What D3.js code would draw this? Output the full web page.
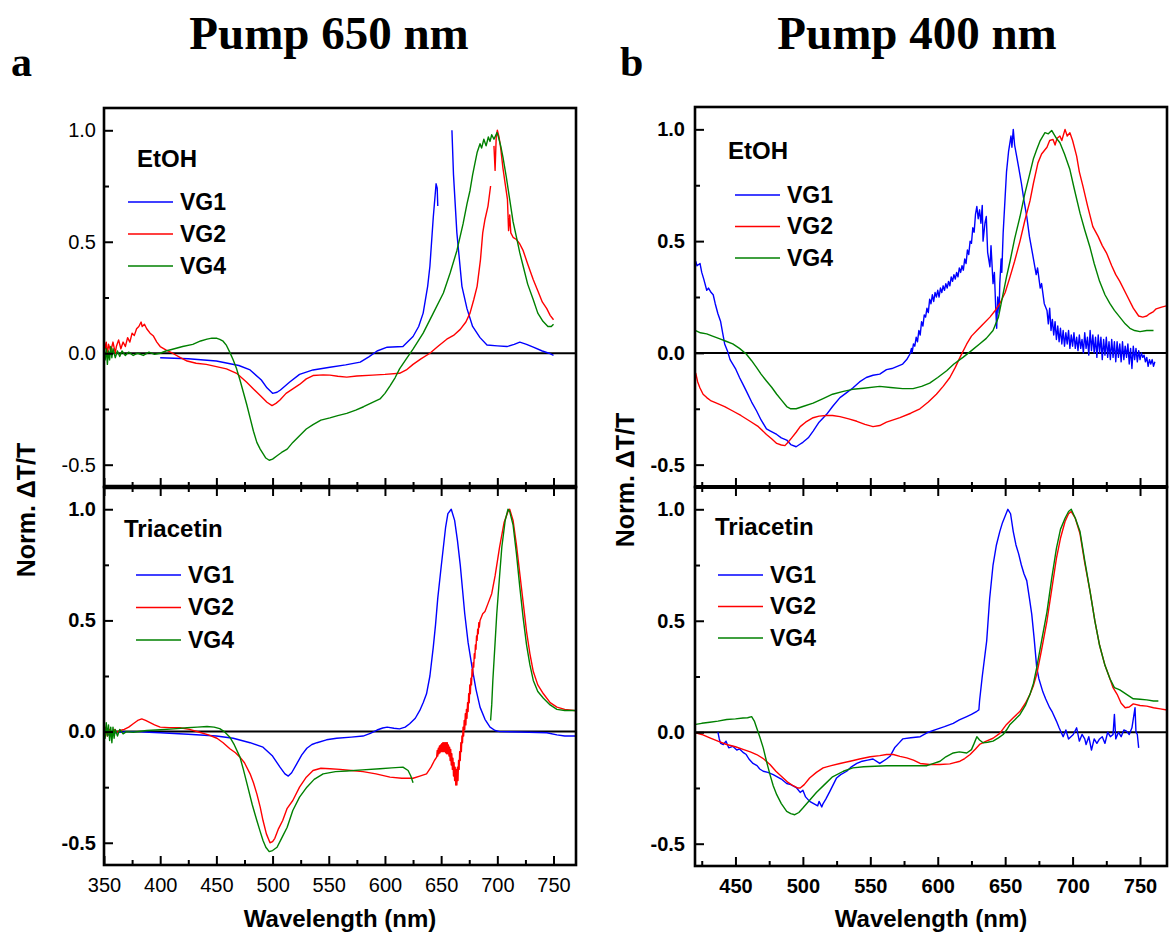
<!DOCTYPE html>
<html><head><meta charset="utf-8">
<script src="https://cdn.jsdelivr.net/npm/d3@7"></script>
<style>body{margin:0;background:#fff}svg{display:block}</style>
</head><body>
<svg id="c" width="1171" height="936"></svg>
<script>
// ---------- DATA ----------
const seriesNames = ["VG1", "VG2", "VG4"];
const solventsTop = "EtOH", solventBottom = "Triacetin";
const titles = ["Pump 650 nm", "Pump 400 nm"];
const panelLetters = ["a", "b"];
const xDomainA = [350, 770], xDomainB = [420, 770];
const yDomain = [-0.6, 1.1];
const xTicksA = [350, 400, 450, 500, 550, 600, 650, 700, 750];
const xMinorA = [375, 425, 475, 525, 575, 625, 675, 725];
const xTicksB = [450, 500, 550, 600, 650, 700, 750];
const xMinorB = [425, 475, 525, 575, 625, 675, 725];
const yTicks = [-0.5, 0.0, 0.5, 1.0];
const yMinor = [-0.25, 0.25, 0.75];

// Pump 650 nm, EtOH
const a_EtOH_VG1 = [[400,-0.02],[425,-0.025],[450,-0.035],[470,-0.055],[480,-0.075],[490,-0.12],[495,-0.155],[500,-0.18],[504,-0.175],[507,-0.165],[515,-0.13],[524,-0.095],[536,-0.075],[551,-0.063],[565,-0.052],[578,-0.04],[586,-0.015],[593,0.01],[602,0.027],[616,0.03],[625,0.075],[630,0.12],[634,0.18],[638,0.30],[640,0.39],[643,0.61],[645.5,0.76],[646.5,0.74],[647,0.66],[648,null],[659.6,1.0],[661,0.80],[664,0.54],[668.5,0.30],[673,0.20],[678,0.12],[684.6,0.07],[690.8,0.037],[700,0.033],[708.6,0.03],[715,0.04],[720,0.05],[726,0.04],[732,0.027],[740,0.01],[746,0.0],[750,-0.01]];
const a_EtOH_VG2 = [[350,0.06],[351,0.02],[352,0.05],[353,-0.01],[354,0.04],[356,0.01],[358,0.05],[360,0.0],[361,0.03],[363,0.06],[365,0.02],[367,0.05],[369,0.03],[371,0.07],[373,0.05],[375,0.09],[377,0.08],[379,0.11],[381,0.12],[383,0.14],[384,0.12],[386,0.13],[388,0.11],[391,0.09],[394,0.077],[397,0.05],[400,0.03],[405,0.015],[411,0.0],[418,-0.02],[424,-0.035],[432,-0.045],[441,-0.05],[450,-0.06],[459,-0.07],[468,-0.09],[477,-0.13],[483,-0.16],[489,-0.19],[495,-0.22],[499.5,-0.235],[503,-0.225],[506.6,-0.21],[512,-0.18],[518,-0.16],[524,-0.14],[530,-0.115],[536,-0.10],[545,-0.097],[551,-0.098],[558,-0.103],[566,-0.107],[575,-0.102],[589,-0.098],[600,-0.095],[613,-0.09],[619,-0.075],[625,-0.05],[632,-0.025],[640,0.0],[647,0.03],[655,0.063],[661,0.08],[667,0.107],[672,0.14],[675.7,0.18],[679,0.24],[682,0.30],[685,0.42],[687,0.54],[689,0.60],[691.7,0.66],[694,0.75],[694.5,null],[697,0.93],[698,0.82],[699,0.97],[700,1.0],[701.5,0.97],[703,0.92],[705,0.83],[707,0.76],[709,0.69],[710,0.55],[711,0.62],[712,0.54],[714,0.52],[717,0.51],[720,0.49],[723,0.46],[727,0.40],[732,0.33],[736,0.28],[740,0.23],[744,0.20],[747,0.17],[750,0.15]];
const a_EtOH_VG4 = [[350,0.0],[351,-0.03],[352,0.02],[353,-0.05],[354,0.01],[355,-0.03],[356,0.03],[357,-0.02],[358,0.02],[360,-0.02],[362,0.01],[364,-0.015],[366,0.01],[369,-0.01],[372,0.005],[376,-0.01],[380,0.0],[385,-0.01],[390,0.005],[395,-0.005],[400,0.0],[405,0.01],[411,0.018],[420,0.03],[429,0.04],[436,0.055],[441.7,0.063],[446,0.068],[450.5,0.067],[453,0.062],[456,0.054],[459,0.035],[462,0.004],[465,-0.03],[468,-0.07],[471,-0.12],[474,-0.175],[477,-0.23],[480,-0.29],[483,-0.35],[486,-0.40],[489,-0.43],[491.5,-0.45],[494,-0.47],[497,-0.48],[500,-0.475],[504,-0.46],[508,-0.445],[513,-0.43],[518,-0.40],[524,-0.37],[530,-0.34],[536,-0.32],[543,-0.30],[551,-0.29],[558,-0.28],[566,-0.27],[574,-0.255],[581,-0.24],[589,-0.22],[595.6,-0.205],[600,-0.18],[604.5,-0.146],[609,-0.11],[613,-0.07],[619,-0.025],[625,0.018],[634,0.09],[643,0.18],[652,0.27],[658,0.36],[664,0.46],[669.5,0.58],[673,0.67],[675.7,0.73],[678,0.80],[680,0.85],[682,0.90],[684.6,0.94],[686,0.92],[688,0.96],[690,0.93],[692,0.97],[693.5,0.95],[695,0.98],[697,0.96],[699.7,0.99],[701,0.97],[703,0.93],[705,0.88],[708,0.79],[711,0.69],[714,0.59],[717.5,0.51],[720,0.45],[723,0.39],[727,0.31],[732,0.24],[736,0.18],[740.6,0.143],[745,0.12],[748,0.12],[750,0.13]];

// Pump 650 nm, Triacetin
const a_Tri_VG1 = [[350,-0.01],[352,0.01],[354,-0.015],[356,0.0],[360,-0.005],[370,0.0],[380,0.0],[390,-0.003],[400,-0.005],[425,-0.012],[450,-0.02],[465,-0.03],[480,-0.05],[491.5,-0.07],[500,-0.11],[506.6,-0.16],[511,-0.19],[514,-0.20],[517,-0.185],[521.5,-0.145],[526,-0.105],[530.5,-0.075],[535,-0.058],[539.5,-0.05],[548,-0.037],[557,-0.03],[570,-0.025],[580.5,-0.02],[587,-0.008],[593,0.007],[598,0.016],[602,0.02],[608,0.015],[613,0.012],[618,0.02],[622,0.035],[627,0.06],[631,0.095],[634,0.13],[637,0.17],[640,0.25],[643,0.38],[645,0.48],[647,0.60],[650,0.74],[652,0.83],[654,0.92],[656,0.98],[659,1.0],[662,0.95],[664.5,0.86],[667,0.75],[669,0.64],[671,0.53],[674,0.40],[677.5,0.29],[681,0.19],[684.6,0.11],[689,0.055],[693.5,0.02],[698,0.005],[702,0.0],[720,-0.002],[744,-0.005],[753,-0.015],[760,-0.02],[770,-0.02]];
const a_Tri_VG2 = [[350,-0.01],[351,0.02],[353,-0.02],[355,0.01],[357,-0.015],[359,0.01],[361,-0.005],[364,0.005],[368,0.01],[372,0.02],[376,0.035],[380,0.05],[383.6,0.057],[387,0.05],[391,0.04],[395,0.03],[400,0.02],[408,0.018],[417.6,0.017],[426,0.01],[435,-0.003],[443,-0.015],[450.5,-0.03],[456,-0.05],[462,-0.077],[467,-0.095],[471,-0.115],[475,-0.14],[480,-0.19],[483,-0.23],[486,-0.28],[489,-0.34],[491.5,-0.40],[494.5,-0.46],[497.7,-0.50],[500,-0.495],[502,-0.48],[505,-0.44],[509,-0.40],[513,-0.345],[518,-0.31],[524,-0.25],[530,-0.205],[536,-0.175],[543,-0.165],[551,-0.167],[560,-0.17],[570,-0.175],[580.5,-0.18],[592,-0.19],[604.5,-0.205],[615,-0.21],[625,-0.21],[631,-0.20],[637,-0.19],[641,-0.16],[644,-0.13],[646,-0.115],[646.5,-0.085],[647,-0.11],[647.5,-0.075],[648,-0.1],[648.5,-0.065],[649,-0.095],[649.5,-0.06],[650,-0.09],[650.5,-0.055],[651,-0.09],[651.5,-0.05],[652,-0.09],[652.5,-0.05],[653,-0.09],[653.5,-0.05],[654,-0.095],[654.5,-0.05],[655,-0.1],[655.5,-0.05],[656,-0.1],[656.5,-0.06],[657,-0.11],[657.5,-0.07],[658,-0.13],[658.5,-0.08],[659,-0.15],[659.5,-0.1],[660,-0.17],[660.5,-0.12],[661,-0.2],[661.5,-0.14],[662,-0.22],[662.5,-0.16],[663,-0.24],[663.5,-0.17],[664,-0.24],[664.5,-0.16],[665,-0.22],[665.5,-0.13],[666,-0.17],[666.5,-0.09],[667,-0.13],[667.5,-0.05],[668,-0.09],[668.5,-0.02],[669,-0.05],[669.5,0.02],[670,-0.02],[670.5,0.05],[671,0.01],[671.5,0.08],[672,0.03],[672.5,0.1],[673,0.06],[673.5,0.13],[674,0.09],[674.5,0.17],[675,0.13],[675.5,0.21],[676,0.17],[676.5,0.24],[677,0.21],[677.5,0.28],[678,0.25],[678.5,0.31],[679,0.29],[679.5,0.35],[680,0.33],[680.5,0.39],[681,0.37],[681.5,0.43],[682,0.41],[682.5,0.46],[683,0.44],[683.5,0.49],[684,0.47],[684.6,0.5],[687,0.53],[689,0.54],[692,0.58],[695,0.62],[698,0.70],[702,0.83],[706,0.94],[709.5,0.99],[711,1.0],[714,0.95],[717,0.84],[720,0.71],[723,0.58],[726,0.45],[729,0.35],[732,0.27],[736,0.21],[741,0.17],[747,0.13],[753,0.11],[760,0.1],[770,0.094]];
const a_Tri_VG4 = [[350,0.0],[351,-0.03],[352,0.04],[353,-0.02],[354,0.03],[355,-0.04],[356,0.02],[357,-0.05],[358,0.02],[359,-0.03],[360,0.01],[362,-0.02],[364,0.01],[367,-0.01],[370,0.0],[376,-0.003],[388,0.005],[400,0.008],[412,0.012],[424,0.017],[433,0.02],[441.7,0.023],[448,0.02],[453,0.013],[457,0.0],[462,-0.025],[466,-0.06],[471,-0.115],[474,-0.17],[478,-0.25],[482,-0.33],[486,-0.40],[489,-0.45],[491.5,-0.49],[494,-0.52],[497,-0.54],[500,-0.535],[504,-0.52],[508,-0.48],[513,-0.43],[518,-0.355],[524,-0.295],[530.5,-0.25],[537,-0.215],[545,-0.19],[556,-0.18],[566,-0.177],[580,-0.172],[595.6,-0.167],[606,-0.163],[616,-0.16],[620.6,-0.175],[623,-0.2],[625,-0.23],[625.5,null],[694,0.05],[695,0.12],[696,0.23],[698,0.4],[699.5,0.53],[702,0.7],[704,0.83],[707,0.95],[709.5,1.0],[711,0.99],[714,0.93],[717,0.80],[720,0.65],[723,0.51],[726,0.39],[729,0.30],[732,0.23],[736,0.18],[741,0.15],[747,0.12],[753,0.10],[760,0.095],[770,0.095]];

// Pump 400 nm, EtOH
const b_EtOH_VG1 = [[420.5,0.41],[421.5,0.39],[423.7,0.40],[425,0.36],[426.5,0.33],[428.7,0.28],[430,0.29],[432,0.27],[433.5,0.26],[435,0.22],[437,0.175],[439,0.14],[440.5,0.09],[442,0.04],[444,0.01],[446,-0.03],[448,-0.05],[450,-0.07],[453,-0.11],[455.5,-0.14],[458,-0.17],[462,-0.22],[465.7,-0.26],[469,-0.30],[473,-0.34],[476,-0.35],[480.6,-0.365],[484,-0.38],[488,-0.39],[491,-0.41],[495,-0.42],[497.5,-0.41],[500,-0.40],[504,-0.38],[507.6,-0.35],[512,-0.31],[517.6,-0.275],[522,-0.24],[527.5,-0.20],[532,-0.18],[537,-0.157],[542,-0.13],[547,-0.11],[552,-0.10],[557,-0.095],[562,-0.075],[566,-0.07],[570,-0.06],[574,-0.05],[577,-0.03],[579.4,-0.005],[580.5,0.02],[581,0.0],[582,0.04],[583,0.03],[584,0.07],[585,0.05],[586,0.1],[587,0.08],[588,0.14],[589,0.12],[590,0.17],[591,0.16],[592,0.2],[593,0.18],[594,0.24],[595,0.22],[596,0.26],[597,0.23],[598,0.27],[599,0.25],[600,0.28],[601,0.25],[602,0.29],[603,0.27],[604,0.3],[605,0.28],[606,0.31],[607,0.29],[608,0.32],[609,0.3],[610,0.34],[611,0.32],[612,0.35],[613,0.33],[614,0.36],[615,0.34],[616,0.38],[617,0.36],[618,0.39],[619,0.37],[620,0.42],[621,0.4],[622,0.46],[623,0.44],[624,0.5],[625,0.49],[626,0.56],[627,0.54],[628,0.62],[629,0.655],[630,0.6],[631,0.64],[632,0.58],[633,0.66],[633.6,0.50],[635,0.58],[636,0.61],[637,0.45],[638.7,0.385],[639.5,0.48],[641,0.31],[642,0.36],[643,0.2],[643.7,0.11],[644.5,0.25],[645.5,0.18],[646,0.31],[647,0.42],[647.5,0.36],[648.5,0.535],[650,0.7],[651,0.81],[652.5,0.90],[654.3,0.97],[655,0.92],[656,1.0],[657,0.93],[658.5,0.88],[660,0.83],[662,0.76],[664,0.68],[666,0.61],[668,0.52],[670.7,0.43],[673,0.35],[674,0.38],[676,0.29],[677,0.31],[679,0.22],[681,0.19],[682,0.13],[683,0.2],[684,0.1],[685,0.15],[686,0.08],[687,0.14],[688,0.06],[689,0.12],[690,0.05],[691,0.11],[692,0.04],[693,0.1],[694,0.03],[695,0.09],[696,0.04],[697,0.1],[698,0.02],[699,0.08],[700,0.03],[701,0.09],[702,0.02],[703,0.07],[704,0.01],[705,0.08],[706,0.02],[707,0.06],[708,0.0],[709,0.09],[710,0.02],[711,0.07],[712,-0.01],[713,0.1],[714,0.01],[715,0.08],[716,0.0],[717,0.07],[718,-0.02],[719,0.08],[720,0.0],[721,0.07],[722,-0.03],[723,0.06],[724,-0.01],[725,0.07],[726,-0.02],[727,0.05],[728,-0.03],[729,0.06],[730,-0.02],[731,0.05],[732,-0.04],[733,0.05],[734,-0.02],[735,0.04],[736,-0.04],[737,0.05],[738,-0.03],[739,0.03],[740,-0.02],[741,0.04],[742,-0.05],[743,0.02],[744,-0.07],[745,0.03],[746,-0.03],[747,0.02],[748,-0.04],[749,0.01],[750,-0.03],[751,0.0],[752,-0.02],[753,-0.01],[754,-0.04],[755,-0.02],[756,-0.06],[757,-0.03],[758,-0.05],[759,-0.03],[760,-0.06],[761,-0.04]];
const b_EtOH_VG2 = [[420.5,-0.09],[422,-0.13],[423.7,-0.157],[426,-0.185],[428.7,-0.20],[432,-0.215],[436,-0.225],[442,-0.24],[448,-0.26],[454,-0.28],[460.8,-0.306],[467,-0.33],[473,-0.365],[477,-0.385],[480.6,-0.405],[484,-0.412],[486.7,-0.415],[489,-0.40],[491.7,-0.38],[495,-0.355],[498,-0.33],[502,-0.31],[507.6,-0.29],[512,-0.283],[517.6,-0.28],[522,-0.28],[527.5,-0.285],[534,-0.295],[540,-0.306],[546,-0.32],[552,-0.33],[557,-0.325],[562,-0.31],[567,-0.30],[572,-0.29],[580,-0.27],[586.8,-0.25],[593,-0.22],[599,-0.185],[604,-0.15],[609,-0.11],[613,-0.065],[616.5,-0.02],[621.5,0.04],[625,0.075],[629,0.10],[633,0.125],[638.7,0.16],[642,0.185],[646,0.22],[650,0.27],[653.6,0.34],[657,0.41],[661,0.50],[664.5,0.59],[668.4,0.68],[671,0.76],[674.3,0.85],[677,0.89],[681,0.92],[683,0.95],[685.5,0.955],[687,0.93],[688.5,0.96],[690.6,0.97],[692,0.95],[694.4,1.0],[696,0.97],[698,0.985],[700,0.95],[703,0.88],[705,0.81],[707.7,0.745],[711,0.66],[715,0.565],[719,0.52],[722,0.48],[725.3,0.445],[729,0.39],[732,0.35],[735,0.32],[740,0.26],[745,0.20],[749,0.165],[752,0.16],[755,0.165],[757,0.175],[760,0.185],[762,0.197],[766,0.205],[769.5,0.21]];
const b_EtOH_VG4 = [[420.5,0.10],[424,0.09],[428.7,0.085],[433,0.075],[438.5,0.063],[443,0.052],[448,0.04],[453,0.02],[458,-0.005],[462,-0.035],[465.7,-0.066],[469,-0.095],[473,-0.126],[477,-0.155],[480.6,-0.185],[484,-0.21],[488,-0.24],[491,-0.25],[495,-0.25],[500,-0.24],[507.6,-0.225],[515,-0.205],[522,-0.185],[530,-0.172],[537,-0.163],[545,-0.158],[557,-0.15],[565,-0.155],[574,-0.16],[581.7,-0.16],[588,-0.15],[594,-0.135],[600,-0.11],[606.6,-0.08],[612,-0.05],[618.7,-0.02],[625,0.01],[631,0.04],[636,0.065],[641,0.10],[645,0.16],[648.5,0.265],[651,0.34],[653.6,0.41],[657,0.51],[661,0.61],[664.5,0.71],[668.4,0.805],[671,0.87],[673.4,0.91],[676,0.95],[679.5,0.985],[682,0.98],[684.5,0.995],[686,0.98],[688,0.96],[690.6,0.94],[694,0.89],[698,0.82],[701,0.74],[705.5,0.625],[709,0.55],[713,0.47],[716,0.40],[720,0.32],[724,0.26],[727.7,0.22],[731,0.19],[735,0.16],[739,0.13],[742.5,0.11],[746,0.1],[750,0.095],[755,0.1],[760,0.10]];

// Pump 400 nm, Triacetin
const b_Tri_VG1 = [[437,0.0],[438,-0.03],[439,-0.05],[441,-0.055],[443,-0.04],[445,-0.07],[448,-0.063],[451,-0.08],[453,-0.075],[455.6,-0.09],[458,-0.1],[460,-0.12],[463,-0.14],[466,-0.15],[468,-0.165],[470.6,-0.175],[474,-0.18],[478,-0.19],[481,-0.20],[484,-0.21],[488,-0.23],[491,-0.235],[495.4,-0.25],[498,-0.27],[500,-0.26],[502,-0.29],[505,-0.31],[508,-0.32],[511,-0.33],[512,-0.31],[514,-0.335],[515,-0.32],[517,-0.30],[520,-0.265],[522.5,-0.235],[525,-0.205],[528,-0.19],[532.5,-0.175],[536,-0.155],[540,-0.14],[544,-0.13],[548,-0.125],[552,-0.12],[557,-0.14],[562,-0.12],[564.6,-0.108],[568,-0.07],[571,-0.05],[574,-0.03],[580,-0.025],[587,-0.02],[593,0.0],[599,0.013],[605,0.025],[611.5,0.04],[616,0.055],[621.5,0.07],[625,0.08],[629,0.094],[630.5,0.1],[631,0.14],[633,0.25],[636.3,0.41],[638.5,0.6],[641,0.75],[643.5,0.84],[646,0.90],[648,0.94],[650,0.97],[652,1.0],[654,0.98],[656,0.90],[658,0.84],[660,0.80],[662,0.75],[664,0.71],[666,0.68],[668,0.60],[669.7,0.53],[671.5,0.42],[673.4,0.29],[675,0.24],[678,0.18],[680,0.15],[683,0.11],[685,0.09],[688,0.05],[690,0.02],[693,-0.02],[695,0.01],[697,-0.03],[700.5,-0.01],[703,0.02],[705,-0.04],[707,-0.01],[709,-0.03],[710,-0.055],[712,-0.02],[714,-0.08],[716,-0.03],[718,-0.05],[720,-0.03],[722,-0.02],[724,-0.05],[726,0.0],[728,-0.02],[730,-0.01],[731,0.08],[732,-0.03],[734,0.0],[736,-0.02],[738,0.01],[740,0.005],[742,-0.01],[744,0.02],[746.3,0.11],[747,0.0],[748,-0.01],[749,-0.07]];
const b_Tri_VG2 = [[420.5,-0.003],[425,-0.01],[431,-0.025],[437,-0.04],[443.5,-0.055],[450,-0.065],[455.6,-0.077],[461,-0.088],[465.7,-0.10],[471,-0.12],[475.6,-0.145],[480,-0.175],[485.4,-0.205],[489,-0.225],[492.8,-0.24],[496,-0.25],[498,-0.25],[501,-0.235],[505,-0.205],[510,-0.18],[515,-0.16],[521,-0.15],[527.5,-0.14],[535,-0.13],[542,-0.12],[550,-0.11],[557,-0.105],[562,-0.1],[567,-0.10],[572,-0.108],[577,-0.115],[582,-0.125],[587,-0.14],[594,-0.145],[601.7,-0.145],[609,-0.142],[616.5,-0.13],[620,-0.118],[624,-0.10],[628,-0.075],[631,-0.055],[636,-0.04],[641,-0.027],[646,-0.005],[651,0.035],[656,0.065],[661,0.094],[665,0.13],[668.4,0.17],[671,0.21],[673.4,0.26],[677,0.37],[681,0.50],[684.5,0.64],[688,0.78],[691,0.87],[694.4,0.945],[697,0.98],[699,0.99],[702,0.96],[705.5,0.89],[709,0.76],[713,0.63],[716.5,0.50],[720,0.39],[724,0.30],[727.7,0.24],[730,0.2],[733,0.17],[736,0.13],[739,0.11],[742,0.113],[745,0.127],[750,0.12],[755,0.117],[760,0.11],[765,0.105],[770,0.10]];
const b_Tri_VG4 = [[420.5,0.035],[425,0.04],[431,0.045],[437,0.05],[443.5,0.057],[450,0.06],[455.6,0.064],[459,0.065],[462,0.07],[464,0.05],[465.7,0.02],[468,-0.02],[470.6,-0.07],[473,-0.13],[475.6,-0.19],[478,-0.24],[480.6,-0.28],[484,-0.32],[488,-0.355],[491,-0.365],[494,-0.37],[497,-0.36],[500,-0.34],[505,-0.305],[510,-0.27],[516,-0.235],[522,-0.20],[530,-0.175],[537,-0.16],[545,-0.155],[562,-0.15],[572,-0.15],[582,-0.15],[592,-0.15],[597,-0.14],[601.7,-0.13],[606,-0.11],[611.5,-0.093],[616,-0.088],[621.5,-0.093],[625,-0.078],[627,-0.05],[629,-0.02],[631,-0.035],[633.6,-0.047],[637,-0.045],[641,-0.04],[645,-0.025],[648.5,-0.01],[651,0.01],[653.6,0.035],[657,0.055],[661,0.08],[665,0.12],[668.4,0.17],[671,0.22],[673.4,0.29],[677,0.41],[681,0.54],[684.5,0.69],[688,0.825],[691,0.91],[694.4,0.96],[697,0.99],[699,1.0],[702,0.96],[705.5,0.90],[709,0.77],[713,0.63],[716.5,0.50],[720,0.39],[724,0.30],[727.7,0.24],[731,0.2],[735,0.19],[740,0.17],[745,0.15],[750,0.148],[755,0.145],[760,0.14],[763.6,0.14]];

// ---------- DRAW ----------
const colors = {VG1: "#0000ff", VG2: "#ff0000", VG4: "#008000"};
const svg = d3.select("#c");
const SANS = "'Liberation Sans', Arial, sans-serif";
const SERIF = "'Liberation Serif', 'Times New Roman', serif";

function drawPanel(o) {
  const x = d3.scaleLinear().domain(o.xDomain).range(o.xRange);
  const y = d3.scaleLinear().domain(yDomain).range(o.yRange);
  const g = svg.append("g");
  const clipId = "clip" + o.id;
  svg.append("clipPath").attr("id", clipId).append("rect")
    .attr("x", o.xRange[0]).attr("y", o.yRange[1])
    .attr("width", o.xRange[1] - o.xRange[0]).attr("height", o.yRange[0] - o.yRange[1]);

  g.append("line").attr("x1", o.xRange[0]).attr("x2", o.xRange[1])
    .attr("y1", y(0)).attr("y2", y(0)).attr("stroke", "#000").attr("stroke-width", 2);

  const line = d3.line().defined(d => d[1] !== null).x(d => x(d[0])).y(d => y(d[1]));
  const cg = g.append("g").attr("clip-path", `url(#${clipId})`);
  o.series.forEach((s, i) => {
    cg.append("path").datum(s).attr("d", line).attr("fill", "none")
      .attr("stroke", colors[seriesNames[i]]).attr("stroke-width", 1.4)
      .attr("stroke-linejoin", "round");
  });

  const styleAxis = (sel) => {
    sel.select(".domain").remove();
    sel.selectAll(".tick line").attr("stroke", "#000").attr("stroke-width", 2);
  };
  const leftMaj = d3.axisLeft(y).tickValues(yTicks).tickSize(-9).tickPadding(o.yPad)
    .tickFormat(d3.format(".1f"));
  const ga = g.append("g").attr("transform", `translate(${o.xRange[0]},0)`).call(leftMaj);
  styleAxis(ga);
  ga.selectAll(".tick text").attr("font-family", SANS).attr("font-size", 20)
    .attr("font-weight", o.yBold ? "bold" : "normal").attr("fill", "#000")
    .text(d => d3.format(".1f")(d).replace("\u2212", "-"));
  const gm = g.append("g").attr("transform", `translate(${o.xRange[0]},0)`)
    .call(d3.axisLeft(y).tickValues(yMinor).tickSize(-5).tickFormat(""));
  styleAxis(gm);

  const gb = g.append("g").attr("transform", `translate(0,${o.yRange[0]})`)
    .call(d3.axisBottom(x).tickValues(o.xTicks).tickSize(-9).tickPadding(13)
      .tickFormat(o.bottomAxis ? d3.format("d") : ""));
  styleAxis(gb);
  gb.selectAll(".tick text").attr("font-family", SANS).attr("font-size", 20)
    .attr("font-weight", o.xBold ? "bold" : "normal").attr("fill", "#000");
  const gbm = g.append("g").attr("transform", `translate(0,${o.yRange[0]})`)
    .call(d3.axisBottom(x).tickValues(o.xMinor).tickSize(-5).tickFormat(""));
  styleAxis(gbm);
  if (o.topTicks) {
    const gt = g.append("g").attr("transform", `translate(0,${o.yRange[1]})`)
      .call(d3.axisTop(x).tickValues(o.xTicks).tickSize(-9).tickFormat(""));
    styleAxis(gt);
    const gtm = g.append("g").attr("transform", `translate(0,${o.yRange[1]})`)
      .call(d3.axisTop(x).tickValues(o.xMinor).tickSize(-5).tickFormat(""));
    styleAxis(gtm);
  }

  g.append("rect").attr("x", o.xRange[0]).attr("y", o.yRange[1])
    .attr("width", o.xRange[1] - o.xRange[0]).attr("height", o.yRange[0] - o.yRange[1])
    .attr("fill", "none").attr("stroke", "#000").attr("stroke-width", 2.6);

  const L = o.legend;
  g.append("text").attr("x", L.tx).attr("y", L.ty).text(L.title)
    .attr("font-family", SANS).attr("font-weight", "bold").attr("font-size", 24).attr("fill", "#000");
  seriesNames.forEach((n, i) => {
    const yy = L.ly + i * L.dy;
    g.append("line").attr("x1", L.lx).attr("x2", L.lx + 45).attr("y1", yy).attr("y2", yy)
      .attr("stroke", colors[n]).attr("stroke-width", 1.6);
    g.append("text").attr("x", L.lx + 52).attr("y", yy + 7.5).text(n)
      .attr("font-family", SANS).attr("font-weight", "bold").attr("font-size", 23).attr("fill", "#000");
  });
}

drawPanel({id: "a1", xDomain: xDomainA, xRange: [104, 576], yRange: [487, 108], xTicks: xTicksA, xMinor: xMinorA,
  series: [a_EtOH_VG1, a_EtOH_VG2, a_EtOH_VG4], yBold: false, yPad: 8, bottomAxis: false, topTicks: false,
  legend: {title: solventsTop, tx: 137, ty: 167, lx: 128, ly: 202, dy: 32}});
drawPanel({id: "a2", xDomain: xDomainA, xRange: [104, 576], yRange: [865, 487], xTicks: xTicksA, xMinor: xMinorA,
  series: [a_Tri_VG1, a_Tri_VG2, a_Tri_VG4], yBold: true, yPad: 8, bottomAxis: true, xBold: false, topTicks: true,
  legend: {title: solventBottom, tx: 124, ty: 537, lx: 136, ly: 575, dy: 32.5}});
drawPanel({id: "b1", xDomain: xDomainB, xRange: [695, 1167], yRange: [487, 107], xTicks: xTicksB, xMinor: xMinorB,
  series: [b_EtOH_VG1, b_EtOH_VG2, b_EtOH_VG4], yBold: true, yPad: 10, bottomAxis: false, topTicks: false,
  legend: {title: solventsTop, tx: 728, ty: 159, lx: 735, ly: 195, dy: 31.5}});
drawPanel({id: "b2", xDomain: xDomainB, xRange: [695, 1167], yRange: [866, 487], xTicks: xTicksB, xMinor: xMinorB,
  series: [b_Tri_VG1, b_Tri_VG2, b_Tri_VG4], yBold: true, yPad: 10, bottomAxis: true, xBold: true, topTicks: true,
  legend: {title: solventBottom, tx: 715, ty: 535, lx: 718, ly: 575, dy: 31.5}});

svg.append("line").attr("x1", 104).attr("x2", 576).attr("y1", 487).attr("y2", 487).attr("stroke", "#000").attr("stroke-width", 4.5);
svg.append("line").attr("x1", 695).attr("x2", 1167).attr("y1", 487).attr("y2", 487).attr("stroke", "#000").attr("stroke-width", 4);

[[titles[0], 329], [titles[1], 917]].forEach(([t, cx]) => {
  svg.append("text").attr("x", cx).attr("y", 49).attr("text-anchor", "middle").text(t)
    .attr("font-family", SERIF).attr("font-weight", "bold").attr("font-size", 47).attr("fill", "#000");
});
[[panelLetters[0], 11], [panelLetters[1], 620]].forEach(([t, lx]) => {
  svg.append("text").attr("x", lx).attr("y", 76).text(t)
    .attr("font-family", SERIF).attr("font-weight", "bold").attr("font-size", 42).attr("fill", "#000");
});
[[35, 510], [634, 480]].forEach(([bx, cy]) => {
  svg.append("text").attr("transform", `translate(${bx},${cy}) rotate(-90)`).attr("text-anchor", "middle")
    .text("Norm. \u0394T/T").attr("font-family", SANS).attr("font-weight", "bold").attr("font-size", 25).attr("fill", "#000");
});
[[340, 927], [931, 927]].forEach(([cx, by]) => {
  svg.append("text").attr("x", cx).attr("y", by).attr("text-anchor", "middle").text("Wavelength (nm)")
    .attr("font-family", SANS).attr("font-weight", "bold").attr("font-size", 24).attr("fill", "#000");
});
</script>
</body></html>
